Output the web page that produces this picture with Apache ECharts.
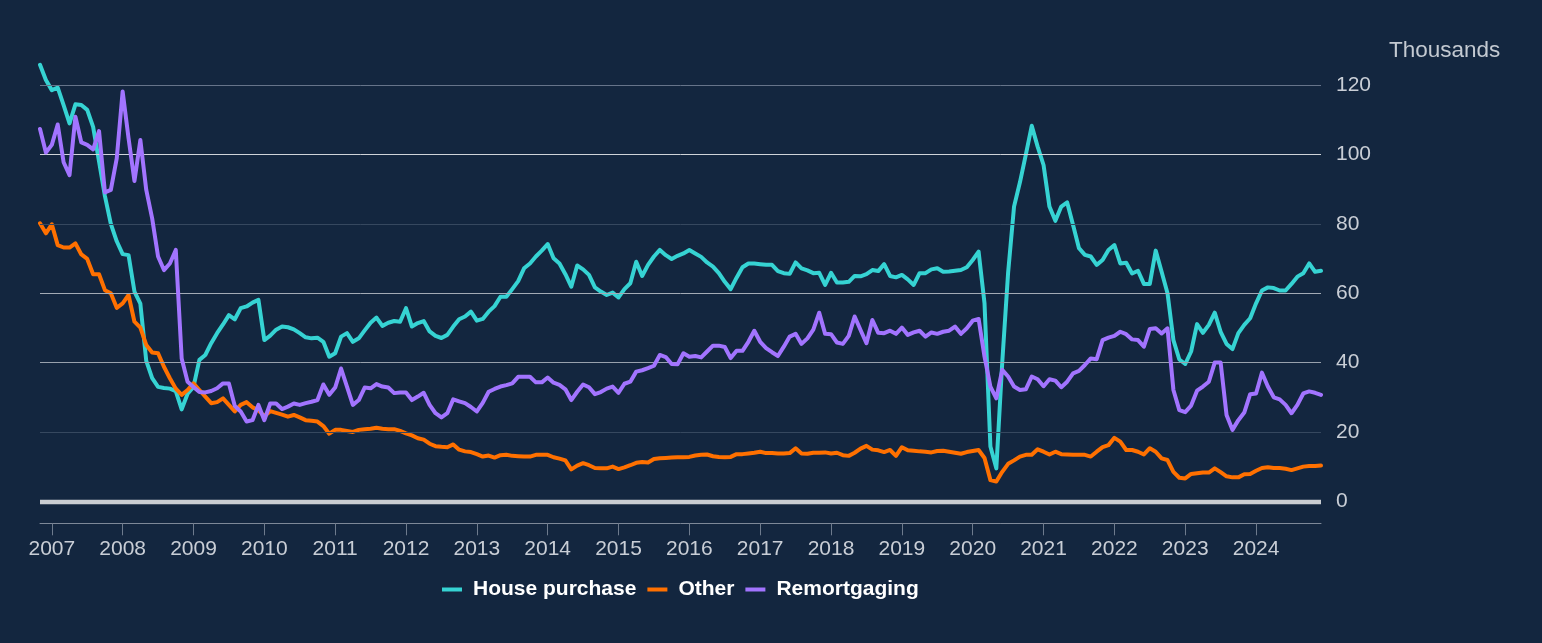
<!DOCTYPE html>
<html>
<head>
<meta charset="utf-8">
<script src="https://cdn.jsdelivr.net/npm/echarts@6/dist/echarts.min.js"></script>
<style>
html,body{margin:0;padding:0;background:#13263f;}
#c{width:1542px;height:643px;}
</style>
</head>
<body>
<div id="c"></div>
<script>
// Monthly observations, Nov 2006 .. Dec 2024 (thousands)
const startYear = 2006, startMonth = 11, monthCount = 218;
const seriesNames = ['House purchase', 'Other', 'Remortgaging'];
const housePurchase = [
125.9,121.5,118.6,119.3,114.3,109.0,114.5,114.3,112.9,108.0,98.0,88.0,80.0,75.0,71.3,71.0,60.5,57.0,40.5,35.5,
33.0,32.7,32.5,31.8,26.5,31.0,33.0,40.8,42.2,45.6,48.5,51.0,53.7,52.5,55.7,56.2,57.3,58.1,46.5,47.8,
49.5,50.4,50.2,49.6,48.5,47.3,47.0,47.2,46.0,41.7,42.7,47.5,48.5,46.0,47.0,49.3,51.5,53.0,50.6,51.5,
52.0,51.8,55.7,50.4,51.4,52.0,49.0,47.7,47.1,48.0,50.4,52.5,53.3,54.7,52.1,52.6,54.7,56.3,59.0,59.0,
61.2,63.5,67.2,68.6,70.6,72.3,74.2,70.1,68.6,65.5,61.9,68.0,66.9,65.3,61.7,60.5,59.5,60.2,58.8,61.2,
62.9,69.1,65.0,68.2,70.6,72.5,71.0,69.9,70.8,71.5,72.5,71.5,70.5,68.9,67.7,65.8,63.3,61.2,64.5,67.5,
68.6,68.6,68.4,68.2,68.2,66.4,65.8,65.6,68.9,67.2,66.6,65.8,65.9,62.4,65.9,63.1,63.1,63.3,65.0,64.9,
65.5,66.7,66.4,68.4,65.0,64.6,65.3,64.0,62.4,65.8,65.8,66.9,67.2,66.2,66.3,66.5,66.7,67.5,69.6,72.0,
57.1,15.8,9.5,40.0,66.0,85.0,92.0,100.0,108.3,102.3,97.0,85.0,80.9,85.0,86.2,79.7,73.0,71.1,70.6,68.2,
69.6,72.5,73.9,68.6,68.8,65.7,66.5,62.7,62.7,72.3,66.2,60.0,46.5,40.9,39.6,43.2,51.1,48.6,50.9,54.4,
48.9,45.4,43.9,48.5,50.9,52.8,57.1,60.8,61.7,61.5,60.8,60.8,62.7,64.8,65.8,68.6,66.2,66.5
];
const other = [
80.2,77.3,79.9,73.9,73.2,73.2,74.4,71.2,69.9,65.5,65.5,60.9,60.0,55.8,57.1,59.5,51.8,50.1,45.1,42.9,
42.7,38.8,35.5,32.5,30.7,32.1,34.0,32.1,30.2,28.3,28.6,29.7,27.8,25.9,27.8,28.6,27.1,26.3,24.5,26.0,
25.5,25.0,24.4,24.9,24.2,23.4,23.2,23.0,21.7,19.5,20.6,20.6,20.3,20.0,20.6,20.8,20.9,21.2,20.9,20.8,
20.8,20.3,19.6,19.0,18.2,17.8,16.6,15.9,15.7,15.6,16.4,14.9,14.4,14.2,13.6,12.9,13.2,12.6,13.3,13.4,
13.1,13.0,12.9,12.9,13.4,13.4,13.4,12.7,12.3,11.8,9.2,10.3,11.0,10.4,9.6,9.5,9.5,10.0,9.3,9.8,
10.4,11.1,11.3,11.2,12.2,12.4,12.5,12.6,12.7,12.7,12.8,13.2,13.4,13.5,13.0,12.8,12.7,12.8,13.6,13.6,
13.8,14.0,14.3,13.9,13.9,13.8,13.8,13.9,15.3,13.8,13.7,14.0,14.0,14.1,13.8,14.0,13.3,13.1,14.0,15.2,
16.0,14.9,14.7,14.2,14.8,13.1,15.6,14.7,14.6,14.4,14.3,14.1,14.5,14.6,14.3,14.0,13.7,14.2,14.5,14.8,
12.5,6.1,5.7,8.5,10.8,11.8,12.9,13.4,13.4,15.0,14.3,13.5,14.3,13.6,13.5,13.4,13.4,13.4,12.9,14.3,
15.6,16.2,18.3,17.2,14.8,14.8,14.3,13.5,15.3,14.3,12.4,11.9,8.5,6.8,6.6,7.9,8.1,8.3,8.3,9.5,
8.4,7.2,6.9,6.9,7.8,7.9,8.8,9.6,9.8,9.6,9.6,9.4,9.0,9.5,10.0,10.2,10.2,10.3
];
const remortgaging = [
107.4,100.6,102.8,108.7,97.8,94.1,110.9,103.5,102.8,101.5,106.8,89.1,89.8,98.9,118.2,104.7,92.4,104.2,89.8,81.6,
70.6,66.7,68.6,72.5,41.2,34.5,33.0,31.5,31.4,31.8,32.6,34.0,34.0,27.5,25.9,23.0,23.4,27.8,23.4,28.2,
28.2,26.6,27.3,28.2,27.8,28.3,28.7,29.2,33.7,30.7,32.8,38.3,33.1,27.8,29.2,32.8,32.6,33.8,33.1,32.8,
31.2,31.4,31.4,29.2,30.2,31.3,27.8,25.4,24.2,25.4,29.4,28.8,28.3,27.2,25.9,28.4,31.6,32.4,33.1,33.5,
34.0,35.9,35.9,35.9,34.3,34.3,35.7,34.2,33.6,32.3,29.2,31.6,33.7,32.9,30.9,31.5,32.5,33.1,31.3,33.9,
34.5,37.4,37.8,38.4,39.1,42.2,41.6,39.6,39.5,42.7,41.7,41.9,41.5,43.2,44.9,44.9,44.5,41.3,43.4,43.4,
46.0,49.2,46.0,44.2,43.0,41.9,44.6,47.5,48.3,45.4,47.0,49.5,54.4,48.3,48.2,45.8,45.4,47.7,53.3,49.4,
45.6,52.3,48.6,48.5,49.2,48.3,50.1,48.0,48.7,49.2,47.5,48.7,48.3,48.9,49.2,50.4,48.3,49.9,52.1,52.6,
41.7,33.1,29.7,37.9,36.0,33.1,32.1,32.3,36.0,35.2,33.2,35.2,34.8,32.9,34.5,36.9,37.6,39.3,41.2,41.0,
46.5,47.2,47.7,48.9,48.2,46.7,46.5,44.6,49.7,49.9,48.4,49.9,32.1,26.3,25.7,27.6,31.9,33.1,34.5,40.0,
40.0,24.9,20.6,23.4,25.6,30.9,31.1,37.1,33.1,30.0,29.4,27.8,25.4,27.8,31.1,31.7,31.3,30.7
];
const yTicks = [0, 20, 40, 60, 80, 100, 120];
const yTitle = 'Thousands';

// month categories
const months = [];
for (let k = 0; k < monthCount; k++) {
  const m0 = startMonth - 1 + k;
  const y = startYear + Math.floor(m0 / 12);
  const m = (m0 % 12) + 1;
  months.push(y + '-' + (m < 10 ? '0' + m : m));
}

const colors = ['#36d3d3', '#ff7000', '#a274ff'];
const gridColors = {0:'#c9cdd2',20:'#36485f',40:'#98a1ad',60:'#a3abb6',80:'#36485f',100:'#cfd3d8',120:'#66748a'};
const FONT = "'Liberation Sans', Arial, sans-serif";
const isJan = (idx, val) => String(val).slice(5) === '01';

const chart = echarts.init(document.getElementById('c'), null, {renderer: 'canvas'});
const lineSeries = [housePurchase, other, remortgaging].map((d, i) => ({
  name: seriesNames[i],
  type: 'line',
  data: d,
  showSymbol: false,
  symbol: 'none',
  lineStyle: {width: 4, color: colors[i], join: 'round', cap: 'round'},
  itemStyle: {color: colors[i]},
  emphasis: {disabled: true},
  z: 3 + i
}));

chart.setOption({
  backgroundColor: '#13263f',
  animation: false,
  textStyle: {fontFamily: FONT},
  grid: {left: 40, right: 221, top: 50.6, bottom: 119.7, containLabel: false},
  legend: {
    data: seriesNames,
    left: 437, top: 574,
    icon: 'rect', itemWidth: 20, itemHeight: 4, itemGap: 11,
    textStyle: {color: '#ffffff', fontSize: 21, fontWeight: 'bold', fontFamily: FONT, padding: [0,0,0,6]},
    selectedMode: false
  },
  xAxis: {
    type: 'category',
    data: months,
    boundaryGap: false,
    axisLine: {show: true, onZero: false, lineStyle: {color: '#7d8898', width: 1}},
    axisTick: {show: true, length: 12, interval: isJan, lineStyle: {color: '#6e7b8d'}},
    axisLabel: {interval: isJan, color: '#c9ced6', fontSize: 21, margin: 15, fontFamily: FONT,
      formatter: v => v.slice(0, 4)},
    splitLine: {show: false}
  },
  yAxis: {
    type: 'value',
    position: 'right',
    min: -6.35, max: 130,
    axisLine: {show: false}, axisTick: {show: false},
    splitLine: {show: false},
    axisLabel: {customValues: yTicks, color: '#c9ced6', fontSize: 21, margin: 15, align: 'left', fontFamily: FONT}
  },
  graphic: [{
    type: 'text', left: 1389, top: 39,
    style: {text: yTitle, fill: '#c3c9d1', font: "22.5px 'Liberation Sans', Arial, sans-serif"}
  }],
  series: [{
    name: '_grid', type: 'line', data: [], silent: true, z: 1,
    markLine: {
      silent: true, symbol: ['none', 'none'], label: {show: false}, animation: false,
      data: yTicks.map(t => ({yAxis: t, lineStyle: {color: gridColors[t], width: t === 0 ? 4.3 : 1, type: 'solid'}}))
    }
  }].concat(lineSeries)
});
</script>
</body>
</html>
